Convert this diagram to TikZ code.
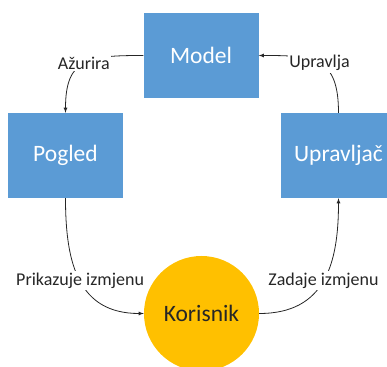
\documentclass[tikz,border=0pt]{standalone}
\usepackage{fontspec}
\setmainfont{Carlito}
\usepackage{tikz}

\definecolor{boxblue}{HTML}{5B9BD5}
\definecolor{useryellow}{HTML}{FFC000}

\begin{document}
\begin{tikzpicture}[x=1pt,y=1pt,
	box/.style={shape=rectangle,fill=boxblue,text=white,minimum width=115pt,minimum height=85pt,font=\fontsize{23.5}{27}\selectfont},
	lbl/.style={fill=white,inner sep=1.5pt,text=black!85,font=\fontsize{18}{21}\selectfont},
	flow/.style={-latex,line width=0.8pt,draw=black!85}]
	\useasboundingbox (0,0) rectangle (387,366);

	\node[box] (model) at (201, 310.5)    {Model};
	\node[box] (pogled) at (65.5, 210.5)  {Pogled};
	\node[box] (upravljac) at (338.5, 210.5) {Upravljač};
	\node[shape=circle,fill=useryellow,minimum size=115pt,inner sep=0pt,text=black!85,font=\fontsize{23.5}{27}\selectfont] (korisnik) at (201.5, 52.5) {Korisnik};

	\draw[flow] (model.west) to[out=180,in=90,looseness=1.45] node[lbl]{Ažurira} (pogled.north);
	\draw[flow] (upravljac.north) to[out=90,in=0,looseness=1.45] node[lbl]{Upravlja} (model.east);
	\draw[flow] (pogled.south) to[out=-90,in=180,looseness=1.2] node[lbl]{Prikazuje izmjenu} (korisnik.west);
	\draw[flow] (korisnik.east) to[out=0,in=-90,looseness=1.2] node[lbl]{Zadaje izmjenu} (upravljac.south);
\end{tikzpicture}
\end{document}
